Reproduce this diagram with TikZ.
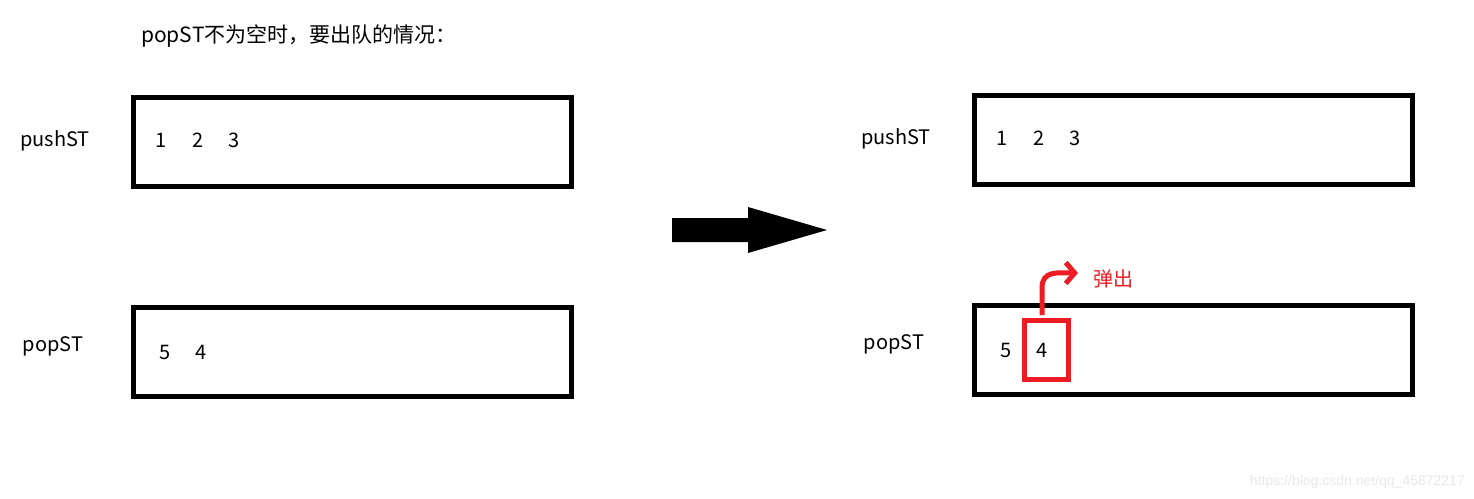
\documentclass[tikz,border=0pt]{standalone}
\usepackage{fontspec}
\setmainfont{Noto Sans CJK SC}
\newfontfamily\markfont{Liberation Sans}
\usetikzlibrary{arrows.meta}

\definecolor{paintred}{RGB}{237,28,36}
\definecolor{markgray}{RGB}{232,232,232}

\tikzset{
  stackbox/.style={draw,line width=5pt,inner sep=0pt,minimum width=438pt,minimum height=89pt},
  txt/.style={font=\fontsize{20}{20}\selectfont,inner sep=0pt},
  popbox/.style={draw=paintred,line width=5pt,inner sep=0pt,minimum width=44pt,minimum height=59pt},
  popline/.style={draw=paintred,line width=5pt,-{Straight Barb[length=9pt,width=21pt]}},
}

\begin{document}
\begin{tikzpicture}[x=1pt,y=-1pt]
  \useasboundingbox (0,0) rectangle (1474,498);
  \node[txt,anchor=west,font=\fontsize{21}{21}\selectfont] (title) at (141,36){popST不为空时，要出队的情况：};

  % before
  \node[txt] (pushL) at (55,141){pushST};
  \node[txt] (popL) at (53,346){popST};
  \node[stackbox] (pushboxL) at (352.5,142){};
  \node[stackbox] (popboxL) at (352.5,352){};
  \node[txt] (p1L) at (161,140){1};
  \node[txt] (p2L) at (198,140){2};
  \node[txt] (p3L) at (234,140){3};
  \node[txt] (q5L) at (165,352){5};
  \node[txt] (q4L) at (201,352){4};

  \fill (672,218) -- (748,218) -- (748,207) -- (827,230) -- (748,253)
        -- (748,242) -- (672,242) -- cycle;

  % after
  \node[txt] (pushR) at (896,139){pushST};
  \node[txt] (popR) at (894,344){popST};
  \node[stackbox] (pushboxR) at (1193.5,140){};
  \node[stackbox] (popboxR) at (1193.5,350){};
  \node[txt] (p1R) at (1002,138){1};
  \node[txt] (p2R) at (1039,138){2};
  \node[txt] (p3R) at (1075,138){3};
  \node[txt] (q5R) at (1006,350){5};
  \node[txt] (q4R) at (1042,350){4};

  \node[popbox] (top) at (1046.5,350){};
  \coordinate (out) at (1078,273);
  \draw[popline] ([xshift=-4.5pt,yshift=3pt]top.north) -- ++(0,-27)
        .. controls +(0,-18) and (1058,273) .. (out);
  \node[txt,text=paintred,anchor=west] (outlabel) at (1093,279){弹出};

  \node[font=\markfont\fontsize{14}{14}\selectfont,text=markgray,anchor=east,inner sep=0pt]
        (mark) at (1465,482){https://blog.csdn.net/qq\_45872217};
\end{tikzpicture}
\end{document}
